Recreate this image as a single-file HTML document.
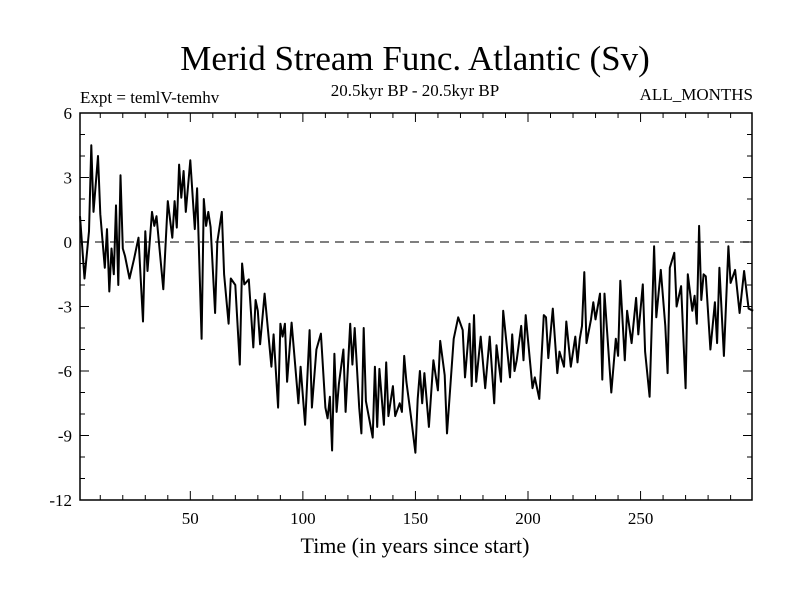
<!DOCTYPE html>
<html><head><meta charset="utf-8"><style>
body{margin:0;background:#fff}
svg{display:block;font-family:"Liberation Serif",serif}
</style></head><body>
<svg width="800" height="600">
<text x="415" y="70" font-size="35" text-anchor="middle">Merid Stream Func. Atlantic (Sv)</text>
<text x="80" y="103" font-size="17">Expt = temlV-temhv</text>
<text x="415" y="96" font-size="17" text-anchor="middle">20.5kyr BP - 20.5kyr BP</text>
<text x="753" y="100" font-size="17" text-anchor="end">ALL_MONTHS</text>
<text x="415" y="553" font-size="22" text-anchor="middle">Time (in years since start)</text>
<g id="axes"></g>
<g id="plot"></g>
</svg>
<script>
const years=[1,3,5,6,7,9,10,12,13,14,15,16,17,18,19,20,21,23,25,27,29,30,31,33,34,35,38,40,42,43,44,45,46,47,48,50,52,53,55,56,57,58,59,61,62,64,65,67,68,70,72,73,74,76,78,79,80,81,83,86,87,89,90,91,92,93,95,98,99,101,103,104,106,108,110,111,112,113,114,115,116,118,119,121,122,123,125,126,127,128,131,132,133,134,136,137,138,140,141,143,144,145,146,148,150,151,152,153,154,156,158,160,161,163,164,167,169,171,172,174,175,176,177,179,181,183,185,186,188,189,192,193,194,195,197,198,199,202,203,205,207,208,209,211,213,214,216,217,219,221,222,223,224,225,226,228,229,230,232,233,234,237,239,240,241,243,244,246,248,249,251,252,254,256,257,259,261,262,263,265,266,268,270,271,273,274,275,276,277,278,279,281,283,284,285,287,289,290,292,294,296,298,300];
const values=[1.2,-1.7,0.5,4.5,1.4,4.0,1.3,-1.2,0.6,-2.3,-0.3,-1.5,1.7,-2.0,3.1,-0.3,-0.65,-1.7,-0.8,0.2,-3.7,0.5,-1.35,1.4,0.75,1.2,-2.2,1.9,0.2,1.9,0.67,3.6,2.06,3.3,1.4,3.8,0.6,2.5,-4.5,2.0,0.75,1.4,0.7,-3.3,0,1.4,-1.5,-3.8,-1.7,-2.0,-5.7,-1.0,-1.97,-1.74,-4.9,-2.7,-3.2,-4.76,-2.4,-5.8,-4.3,-7.7,-3.8,-4.4,-3.8,-6.5,-3.75,-7.5,-5.8,-8.5,-4.1,-7.7,-5.0,-4.26,-7.7,-8.2,-7.2,-9.7,-5.2,-7.9,-6.6,-5.0,-7.9,-3.8,-5.7,-4.0,-7.7,-8.9,-4.0,-7.4,-9.1,-5.8,-8.6,-5.9,-8.5,-5.6,-8.1,-6.7,-8.1,-7.5,-7.9,-5.3,-6.5,-8.1,-9.8,-7.3,-6.0,-7.5,-6.1,-8.6,-5.5,-6.9,-4.6,-6.2,-8.9,-4.5,-3.5,-4.1,-6.3,-3.8,-6.7,-3.4,-6.5,-4.4,-6.8,-4.4,-7.5,-4.8,-6.5,-3.2,-6.3,-4.3,-6.0,-5.5,-3.9,-5.5,-3.4,-6.8,-6.3,-7.3,-3.4,-3.5,-5.4,-3.1,-6.1,-5.1,-5.8,-3.7,-5.8,-4.4,-5.6,-4.5,-3.9,-1.4,-4.7,-3.6,-2.8,-3.6,-2.4,-6.4,-2.4,-7.0,-4.5,-5.3,-1.8,-5.5,-3.2,-4.7,-2.6,-4.3,-1.97,-5.1,-7.2,-0.2,-3.5,-1.3,-3.9,-6.1,-1.2,-0.5,-3.0,-2.05,-6.8,-1.5,-3.2,-2.5,-3.8,0.75,-2.7,-1.5,-1.6,-5.0,-2.8,-4.7,-1.2,-5.3,-0.2,-1.9,-1.3,-3.3,-1.35,-3.1,-3.2];
const xTicks=[50,100,150,200,250];
const yTicks=[6,3,0,-3,-6,-9,-12];
const L=80,R=752,T=113,B=500,x0=1,x1=299.5,y0=-12,y1=6;
const sx=v=>L+(v-x0)/(x1-x0)*(R-L);
const sy=v=>B-(v-y0)/(y1-y0)*(B-T);
const NS='http://www.w3.org/2000/svg';
function mk(tag,attrs,parent,txt){const e=document.createElementNS(NS,tag);for(const k in attrs)e.setAttribute(k,attrs[k]);if(txt!==undefined)e.textContent=txt;parent.appendChild(e);return e;}
const ax=document.getElementById('axes'),pl=document.getElementById('plot');
let z=mk('line',{x1:L,x2:R,y1:sy(0),y2:sy(0),stroke:'#555','stroke-width':1.5,'stroke-dasharray':'9,6'},ax);


for(let v=-12;v<=6;v++){const major=v%3===0,len=major?9:5;
 mk('line',{x1:L,x2:L+len,y1:sy(v),y2:sy(v),stroke:'#000','stroke-width':1},ax);
 mk('line',{x1:R,x2:R-len,y1:sy(v),y2:sy(v),stroke:'#000','stroke-width':1},ax);}
for(let v=10;v<=290;v+=10){const major=v%50===0,len=major?9:5;
 mk('line',{x1:sx(v),x2:sx(v),y1:B,y2:B-len,stroke:'#000','stroke-width':1},ax);
 mk('line',{x1:sx(v),x2:sx(v),y1:T,y2:T+len,stroke:'#000','stroke-width':1},ax);}
yTicks.forEach(v=>{const t=mk('text',{x:L-8,y:sy(v)+6,'font-size':17,'text-anchor':'end'},ax,String(v));
 
 });
xTicks.forEach(v=>{const t=mk('text',{x:sx(v),y:B+24,'font-size':17,'text-anchor':'middle'},ax,String(v));
 
 });
const d=years.map((y,i)=>(i?'L':'M')+sx(y).toFixed(1)+','+sy(values[i]).toFixed(1)).join('');
const p=mk('path',{d:d,fill:'none',stroke:'#000','stroke-width':2,'stroke-linejoin':'round'},pl);


const f=mk('rect',{x:L,y:T,width:R-L,height:B-T,fill:'none',stroke:'#000','stroke-width':1.5},ax);


</script>
</body></html>
